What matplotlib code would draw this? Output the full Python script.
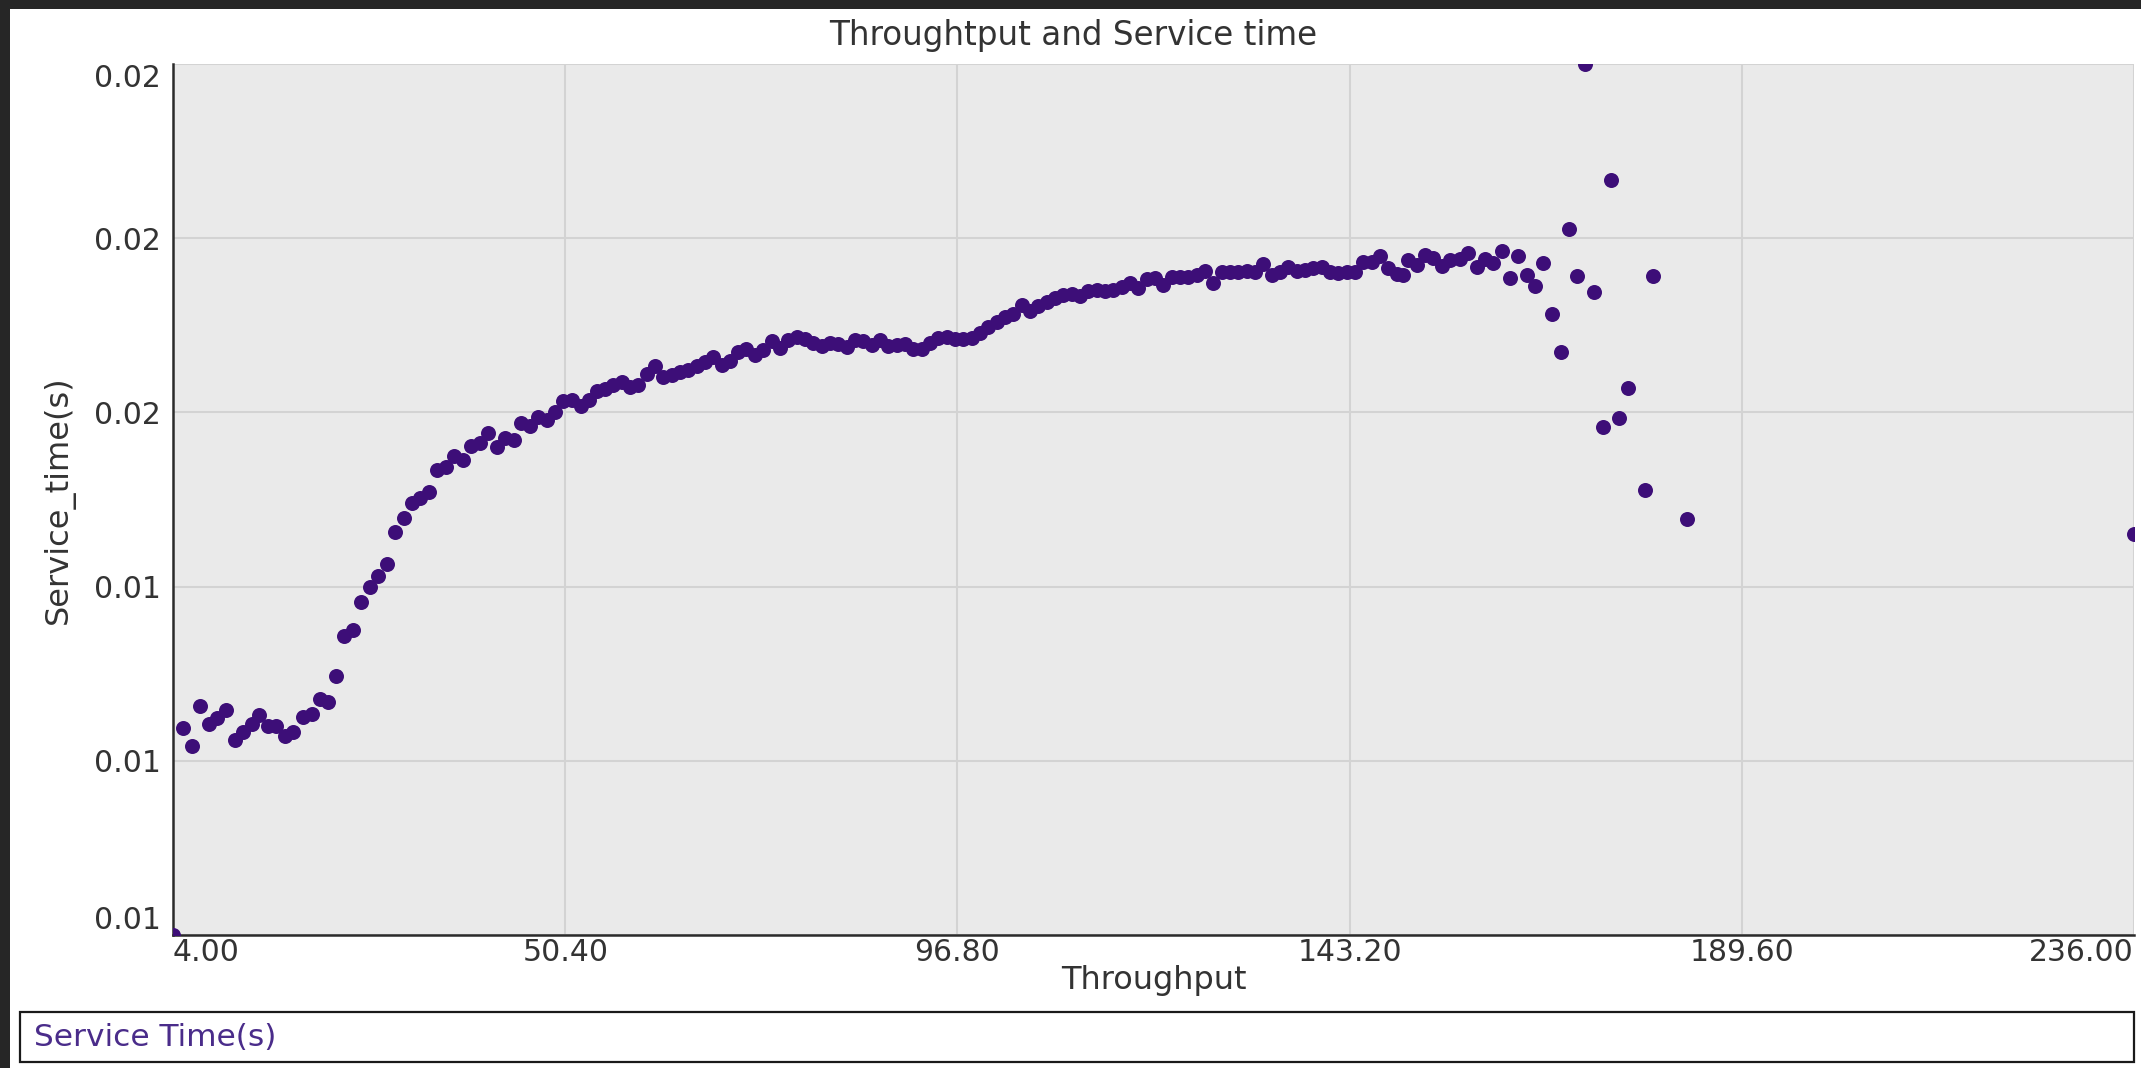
import matplotlib
matplotlib.use("Agg")
import matplotlib.pyplot as plt
from matplotlib.patches import Rectangle

# ---- data ----
throughput = [
    4.00, 5.22, 6.21, 7.25, 8.24, 9.26, 10.27, 11.33, 12.32, 13.31,
    14.21, 15.28, 16.22, 17.25, 18.23, 19.42, 20.41, 21.34, 22.34, 23.28,
    24.20, 25.30, 26.21, 27.31, 28.29, 29.28, 30.27, 31.33, 32.24, 33.22,
    34.32, 35.20, 36.30, 37.24, 38.35, 39.26, 40.32, 41.30, 42.30, 43.28,
    44.34, 45.17, 46.24, 47.22, 48.21, 49.19, 50.18, 51.17, 52.27, 53.25,
    54.13, 55.11, 56.06, 57.12, 58.07, 59.01, 60.08, 61.03, 61.97, 63.04,
    63.98, 64.93, 65.99, 66.94, 67.89, 68.95, 69.90, 70.85, 71.79, 72.86,
    73.80, 74.87, 75.81, 76.76, 77.83, 78.77, 79.72, 80.78, 81.73, 82.68,
    83.74, 84.69, 85.63, 86.70, 87.65, 88.59, 89.66, 90.60, 91.55, 92.61,
    93.56, 94.51, 95.57, 96.52, 97.46, 98.53, 99.48, 100.42, 101.49, 102.43,
    103.38, 104.44, 105.39, 106.34, 107.40, 108.35, 109.30, 110.36, 111.31, 112.25,
    113.32, 114.27, 115.21, 116.28, 117.22, 118.17, 119.23, 120.18, 121.13, 122.19,
    123.14, 124.08, 125.15, 126.10, 127.04, 128.11, 129.05, 130.00, 131.07, 132.01,
    132.96, 134.02, 134.97, 135.92, 136.98, 137.93, 138.87, 139.94, 140.88, 141.83,
    142.90, 143.84, 144.79, 145.85, 146.80, 147.75, 148.81, 149.52, 150.11, 151.18,
    152.12, 153.07, 154.14, 155.08, 156.27, 157.21, 158.28, 159.22, 160.17, 161.23,
    162.18, 163.13, 164.19, 165.14, 166.08, 167.15, 168.21, 169.16, 170.11, 171.05,
    172.12, 173.18, 174.13, 175.08, 176.14, 178.15, 179.10, 183.12, 236.00,
]

service_time = [
    0.00750, 0.01047, 0.01021, 0.01078, 0.01053, 0.01062, 0.01073, 0.01030, 0.01042, 0.01053,
    0.01066, 0.01050, 0.01050, 0.01035, 0.01042, 0.01063, 0.01067, 0.01089, 0.01085, 0.01121,
    0.01179, 0.01187, 0.01228, 0.01250, 0.01265, 0.01282, 0.01329, 0.01348, 0.01370, 0.01377,
    0.01386, 0.01417, 0.01421, 0.01437, 0.01432, 0.01452, 0.01456, 0.01470, 0.01451, 0.01463,
    0.01461, 0.01485, 0.01480, 0.01494, 0.01489, 0.01501, 0.01517, 0.01518, 0.01509, 0.01518,
    0.01530, 0.01534, 0.01539, 0.01544, 0.01536, 0.01539, 0.01555, 0.01567, 0.01551, 0.01554,
    0.01558, 0.01561, 0.01567, 0.01573, 0.01580, 0.01568, 0.01574, 0.01587, 0.01591, 0.01582,
    0.01590, 0.01603, 0.01592, 0.01604, 0.01608, 0.01605, 0.01600, 0.01595, 0.01600, 0.01598,
    0.01594, 0.01604, 0.01603, 0.01597, 0.01604, 0.01595, 0.01597, 0.01598, 0.01591, 0.01591,
    0.01600, 0.01607, 0.01608, 0.01605, 0.01605, 0.01607, 0.01614, 0.01623, 0.01630, 0.01637,
    0.01641, 0.01654, 0.01646, 0.01653, 0.01658, 0.01664, 0.01669, 0.01670, 0.01667, 0.01674,
    0.01675, 0.01674, 0.01676, 0.01680, 0.01686, 0.01679, 0.01691, 0.01693, 0.01683, 0.01694,
    0.01695, 0.01695, 0.01697, 0.01703, 0.01686, 0.01702, 0.01701, 0.01702, 0.01703, 0.01701,
    0.01713, 0.01697, 0.01702, 0.01708, 0.01703, 0.01704, 0.01707, 0.01709, 0.01701, 0.01700,
    0.01702, 0.01702, 0.01716, 0.01716, 0.01725, 0.01707, 0.01699, 0.01697, 0.01719, 0.01712,
    0.01726, 0.01722, 0.01710, 0.01719, 0.01720, 0.01729, 0.01709, 0.01720, 0.01714, 0.01732,
    0.01693, 0.01725, 0.01697, 0.01681, 0.01714, 0.01641, 0.01587, 0.01763, 0.01696, 0.02000,
    0.01673, 0.01479, 0.01834, 0.01492, 0.01535, 0.01389, 0.01696, 0.01347, 0.01326,
]

x_ticks = [4.0, 50.4, 96.8, 143.2, 189.6, 236.0]
x_tick_labels = ["4.00", "50.40", "96.80", "143.20", "189.60", "236.00"]
y_ticks = [0.0075, 0.01, 0.0125, 0.015, 0.0175, 0.02]
y_tick_labels = ["0.01", "0.01", "0.01", "0.02", "0.02", "0.02"]

title = "Throughtput and Service time"
x_label = "Throughput"
y_label = "Service_time(s)"
series_label = "Service Time(s)"

W, H = 2141, 1068
MARKER = "#3d0e78"
TEXT = "#333333"

fig = plt.figure(figsize=(W / 100, H / 100), dpi=100)
fig.patch.set_facecolor("#262626")
# white panel (dark strip left/top like the screenshot frame)
fig.add_artist(Rectangle((10 / W, 0), 1, 1 - 9 / H, transform=fig.transFigure,
                         facecolor="white", edgecolor="none", zorder=0))

ax = fig.add_axes([173 / W, 133 / H, 1961 / W, 871 / H])
ax.set_facecolor("#eaeaea")

ax.plot(throughput, service_time, linestyle="none", marker="o", ms=10.8,
        mec="none", color=MARKER, zorder=3)

ax.set_xlim(4.0, 236.0)
ax.set_ylim(0.0075, 0.02)
ax.set_xticks(x_ticks)
ax.set_xticklabels(x_tick_labels)
ax.set_yticks(y_ticks)
ax.set_yticklabels(y_tick_labels)
ax.tick_params(axis="both", length=0, labelsize=21.5, labelcolor=TEXT)
ax.tick_params(axis="x", pad=2)
ax.tick_params(axis="y", pad=8.6)

# end labels pulled inside like the original chart library does
xl = ax.get_xticklabels()
xl[0].set_ha("left")
xl[-1].set_ha("right")
yl = ax.get_yticklabels()
yl[0].set_va("bottom")
yl[-1].set_va("top")

ax.grid(True, color="#d3d3d3", linewidth=1.5)
ax.set_axisbelow(True)

for s in ["top", "right"]:
    ax.spines[s].set_visible(False)
for s in ["left", "bottom"]:
    ax.spines[s].set_color("#2b2b2b")
    ax.spines[s].set_linewidth(1.8)

ax.set_xlabel(x_label, fontsize=23, color=TEXT)
ax.xaxis.set_label_coords(0.5, (935 - 981) / 871)
ax.xaxis.label.set_va("center")
ax.set_ylabel(y_label, fontsize=23, color=TEXT)
ax.yaxis.set_label_coords((59 - 173) / 1961, 0.5)
ax.yaxis.label.set_va("center")

fig.text(1073 / W, 1 - 35 / H, title, ha="center", va="center",
         fontsize=23.5, color=TEXT)

# legend strip at the bottom
fig.add_artist(Rectangle((20 / W, 6 / H), 2114 / W, 50 / H, transform=fig.transFigure,
                         facecolor="white", edgecolor="#1a1a1a", linewidth=1.6))
fig.text(34 / W, 1 - 1037 / H, series_label, ha="left", va="center",
         fontsize=22.5, color="#4a2c8a")

fig.savefig("out.png", dpi=100, facecolor=fig.get_facecolor())
